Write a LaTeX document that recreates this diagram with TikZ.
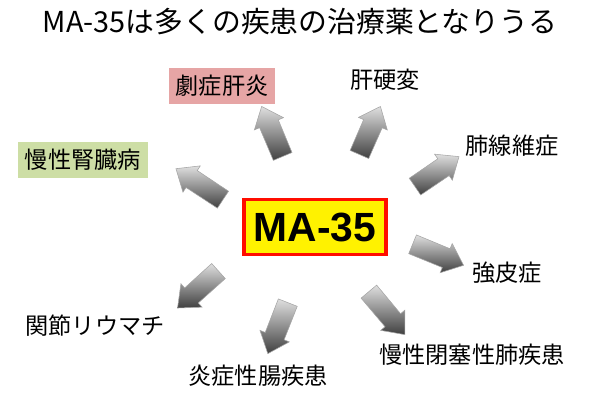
\documentclass[tikz,border=0pt]{standalone}
\usepackage{fontspec}
\setmainfont{Noto Sans CJK JP}
\newfontfamily\latinbold{Liberation Sans}
\usetikzlibrary{calc,shapes.arrows}

\definecolor{pinkfill}{RGB}{230,165,165}
\definecolor{greenfill}{RGB}{205,222,165}

\tikzset{
  disease/.style={font=\fontsize{16.5}{19}\selectfont, inner sep=3pt},
  pinkbox/.style={disease, fill=pinkfill, minimum height=26pt, inner xsep=5pt},
  greenbox/.style={disease, fill=greenfill, minimum height=26pt, inner xsep=5pt},
  graybarrow/.style={single arrow, draw=gray!70, top color=gray!25, bottom color=black!75,
    single arrow head extend=4pt, single arrow tip angle=80, inner xsep=0pt, inner ysep=0pt}
}

\begin{document}
\begin{tikzpicture}[x=0.025cm, y=-0.025cm]
    \useasboundingbox (0,0) rectangle (600,401);

    \node (title) at (300,22) {\fontsize{20.5}{24}\selectfont MA-35は多くの疾患の治療薬となりうる};

    \node[draw=red!90!orange, line width=2.5pt, fill=yellow, inner sep=0pt,
      minimum width=101pt, minimum height=39pt] (ma) at (315,227) {\latinbold\bfseries\fontsize{29}{32}\selectfont MA-35};

    \node[pinkbox] (acute) at (222,86) {劇症肝炎};
    \node[disease] (cirr) at (385,80) {肝硬変};
    \node[disease] (fibro) at (512,146) {肺線維症};
    \node[greenbox] (ckd) at (83,160) {慢性腎臓病};
    \node[disease] (scler) at (507,273) {強皮症};
    \node[disease] (ra) at (95,326) {関節リウマチ};
    \node[disease] (ibd) at (258,376) {炎症性腸疾患};
    \node[disease] (copd) at (472,355) {慢性閉塞性肺疾患};

    % gray arrows (tail/tip)
    \foreach \tx/\ty/\hx/\hy in {285/162/264/112, 357/160/378/112, 410/190/454/160,
      228/203/181/172, 407/242/458/263, 223/267/182/304, 290/297/270/348, 365/287/401/330}{
      \coordinate (tail) at (\tx,\ty);
      \coordinate (tip) at (\hx,\hy);
      \path let \p1=($(tip)-(tail)$), \n1={atan2(\y1,\x1)}, \n2={veclen(\x1,\y1)} in
        node[graybarrow, rotate=\n1, minimum height=\n2] at ($(tail)!0.5!(tip)$) {\rule{0pt}{14pt}};
    }
\end{tikzpicture}
\end{document}
